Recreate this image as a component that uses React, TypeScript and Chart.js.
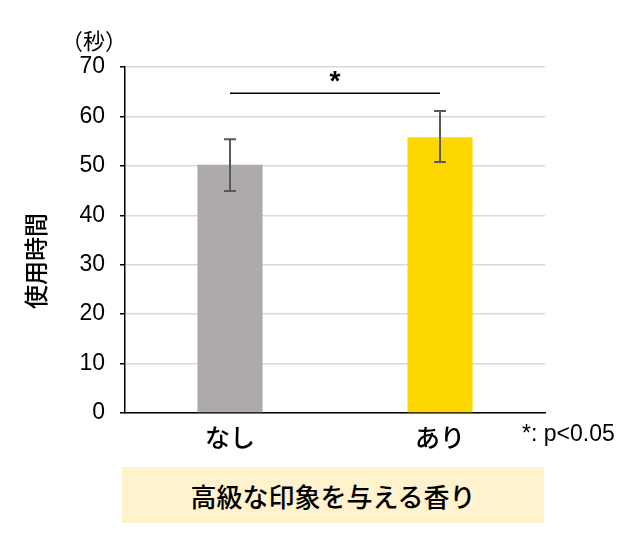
import React, { useEffect, useRef } from "react";
import { Chart, registerables } from "chart.js";

Chart.register(...registerables);

const categories = ["なし", "あり"];
const meanValues = [50.2, 55.8];
const errUpper = [55.4, 61.1];
const errLower = [44.9, 50.8];
const barColors = ["#AEAAAA", "#FFD700"];
const sigLevel = 64.7;
const sigMarkLevel = 68;
const yTicks = [0, 10, 20, 30, 40, 50, 60, 70];
const yTitle = "使用時間";
const unitLabel = "（秒）";
const noteText = "*: p<0.05";
const groupLabel = "高級な印象を与える香り";

const FONT = "'Liberation Sans', 'Noto Sans CJK JP', sans-serif";
const JFONT = "'Noto Sans CJK JP', sans-serif";

const overlayPlugin = {
  id: "overlay",
  afterDatasetsDraw(chart: any) {
    const ctx = chart.ctx;
    const meta = chart.getDatasetMeta(0);
    const ys = chart.scales.y;
    ctx.save();
    ctx.strokeStyle = "#595959";
    ctx.lineWidth = 2;
    meta.data.forEach((bar: any, i: number) => {
      const x = bar.x;
      const yt = ys.getPixelForValue(errUpper[i]);
      const yb = ys.getPixelForValue(errLower[i]);
      ctx.beginPath();
      ctx.moveTo(x, yt);
      ctx.lineTo(x, yb);
      ctx.moveTo(x - 6, yt);
      ctx.lineTo(x + 6, yt);
      ctx.moveTo(x - 6, yb);
      ctx.lineTo(x + 6, yb);
      ctx.stroke();
    });
    const x0 = meta.data[0].x;
    const x1 = meta.data[1].x;
    const ySig = ys.getPixelForValue(sigLevel);
    ctx.strokeStyle = "#000";
    ctx.lineWidth = 1.5;
    ctx.beginPath();
    ctx.moveTo(x0, ySig);
    ctx.lineTo(x1, ySig);
    ctx.stroke();
    ctx.fillStyle = "#000";
    ctx.font = `bold 28px ${FONT}`;
    ctx.textAlign = "center";
    ctx.textBaseline = "middle";
    ctx.fillText("*", (x0 + x1) / 2, ys.getPixelForValue(sigMarkLevel) + 5);
    ctx.restore();
  },
  afterDraw(chart: any) {
    const ctx = chart.ctx;
    ctx.save();
    ctx.fillStyle = "#000";
    ctx.font = `500 24px ${JFONT}`;
    ctx.textAlign = "center";
    ctx.textBaseline = "middle";
    ctx.translate(28, 253);
    ctx.rotate(-Math.PI / 2);
    ctx.fillText(yTitle, 0, 0);
    ctx.restore();
    ctx.save();
    ctx.fillStyle = "#000";
    ctx.font = `22px ${JFONT}`;
    ctx.textAlign = "center";
    ctx.textBaseline = "middle";
    ctx.fillText(unitLabel, 86, 33);
    ctx.font = `23px ${FONT}`;
    ctx.textAlign = "left";
    ctx.fillText(noteText, 514, 427);
    ctx.restore();
  },
};

export default function App() {
  const ref = useRef<HTMLCanvasElement>(null);
  useEffect(() => {
    if (!ref.current) return;
    const chart = new Chart(ref.current, {
      type: "bar",
      data: {
        labels: categories,
        datasets: [
          {
            data: meanValues,
            backgroundColor: barColors,
            borderWidth: 0,
            categoryPercentage: 1,
            barPercentage: 0.31,
          },
        ],
      },
      options: {
        responsive: false,
        animation: false,
        events: [],
        layout: { padding: { top: 59, right: 87, left: 0, bottom: 0 } },
        plugins: {
          legend: { display: false },
          tooltip: { enabled: false },
          title: { display: false },
        },
        scales: {
          x: {
            grid: { display: false, drawTicks: false },
            border: { display: true, color: "#000", width: 1.5 },
            ticks: {
              color: "#000",
              font: { family: JFONT, size: 25, weight: "500" },
              padding: 9,
            },
            afterFit: (s: any) => {
              s.height = 54;
            },
          },
          y: {
            min: 0,
            max: 70,
            afterBuildTicks: (s: any) => {
              s.ticks = yTicks.map((v) => ({ value: v }));
            },
            grid: {
              color: "#D9D9D9",
              lineWidth: 1.5,
              tickLength: 5,
              tickColor: "#000",
              tickWidth: 1.5,
            },
            border: { display: true, color: "#000", width: 1.5 },
            ticks: {
              color: "#000",
              font: { family: FONT, size: 23 },
              padding: 15,
            },
            afterFit: (s: any) => {
              s.width = 117;
            },
          },
        },
      },
      plugins: [overlayPlugin],
    });
    return () => chart.destroy();
  }, []);
  return (
    <div style={{ width: 624, height: 544 }}>
      <div style={{ width: 624, height: 459 }}>
        <canvas ref={ref} width={624} height={459} style={{ display: "block" }} />
      </div>
      <div
        style={{
          marginLeft: 114,
          width: 422,
          height: 56,
          background: "#FFF2CC",
          display: "flex",
          alignItems: "center",
          justifyContent: "center",
          fontFamily: JFONT,
          fontWeight: 500,
          fontSize: 26,
          color: "#000",
        }}
      >
        {groupLabel}
      </div>
    </div>
  );
}
